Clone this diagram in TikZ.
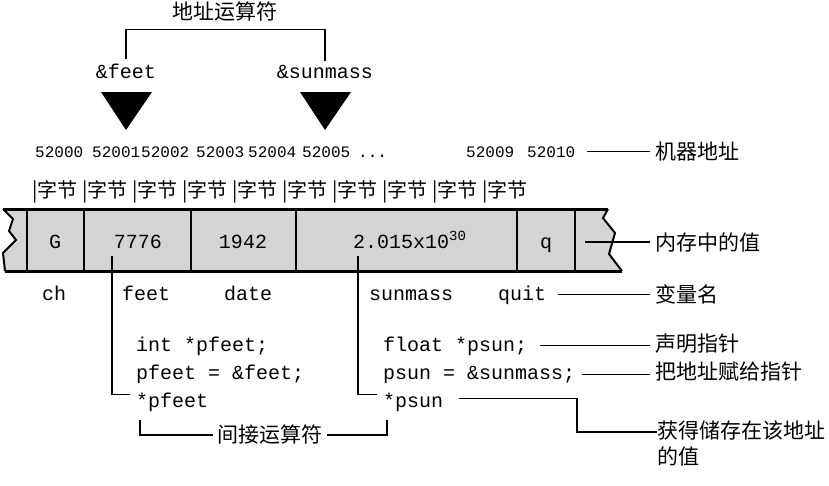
\documentclass[tikz,border=0pt]{standalone}
\usepackage{fontspec}
\setmonofont{Liberation Mono}
\newfontfamily\cjk{Noto Sans CJK SC}
\usepackage{tikz}
\usepackage{xcolor}
\usetikzlibrary{positioning}

\begin{document}
\begin{tikzpicture}[x=1pt,y=-1pt]
\tikzstyle{every node}+=[inner sep=0pt]
\tikzstyle{code}=[anchor=base west,font=\ttfamily\fontsize{20}{24}\selectfont]
\tikzstyle{val}=[anchor=base,font=\ttfamily\fontsize{20}{24}\selectfont]
\tikzstyle{addr}=[anchor=base west,font=\ttfamily\fontsize{16}{19}\selectfont]
\tikzstyle{hanzi}=[anchor=west,font=\cjk\fontsize{21}{26}\selectfont]
\tikzstyle{wire}=[black,line width=1.1pt]
\useasboundingbox (0,0) rectangle (829,485);
% address operator
\node [hanzi,anchor=center] (title) at (225,12) {地址运算符};
\node [code,anchor=base] (afeet) at (126,78) {\&feet};
\node [code,anchor=base] (asun) at (325,78) {\&sunmass};
\draw [wire] ([yshift=4pt]afeet.north) -- ++(0,-30) -| ([yshift=4pt]asun.north);
\fill [black] (101,92) -- (152,92) -- (126,130) -- cycle;
\fill [black] (300,92) -- (351,92) -- (325,130) -- cycle;
% machine addresses
\node [addr] (a0) at (35,157) {52000};
\node [addr] (a1) at (92,157) {52001};
\node [addr] (a2) at (141,157) {52002};
\node [addr] (a3) at (196,157) {52003};
\node [addr] (a4) at (248,157) {52004};
\node [addr] (a5) at (302,157) {52005};
\node [addr] (adots) at (358,157) {...};
\node [addr] (a9) at (466,157) {52009};
\node [addr] (a10) at (527,157) {52010};
\node [hanzi] (lbladdr) at (655,152) {机器地址};
\draw [wire] ([xshift=12pt]a10.east) -- ([xshift=-5pt]a10.east -| lbladdr.west);
% bytes
\foreach \i in {0,...,9}
  \node [hanzi,anchor=base west,font=\cjk\fontsize{20}{24}\selectfont] (byte\i) at (32+50*\i,197) {|字节};
% memory cells
\fill [black!17] (3,209) -- (608,209) -- (603,218) -- (615,233) -- (609,254) -- (622,271)
  -- (5,271) -- (3,253) -- (9,247) -- (16,240) -- (9,231) -- (13,219) -- cycle;
\draw [black,line width=2pt] (3,209) -- (13,219) -- (9,231) -- (16,240) -- (9,247) -- (3,253) -- (5,271);
\draw [black,line width=2pt] (608,209) -- (603,218) -- (615,233) -- (609,254) -- (622,271);
\draw [black,line width=3pt] (3,209) -- (608,209);
\draw [black,line width=3pt] (5,271) -- (622,271);
\foreach \x in {27,84,191,296,517,575}
  \draw [black,line width=2.5pt] (\x,209) -- (\x,271);
\node [val] (vch) at (55,248) {G};
\node [val] (vfeet) at (138,248) {7776};
\node [val] (vdate) at (243,248) {1942};
\node [code] (vsun) at (353,248) {2.015x10\textsuperscript{30}};
\node [val] (vquit) at (546,248) {q};
\coordinate (qpt) at (585,242);
\node [hanzi] (lblval) at (655,242) {内存中的值};
\draw [wire] (qpt) -- ([xshift=-5pt]qpt -| lblval.west);
% variable names
\node [code] (nch) at (42,300) {ch};
\node [code] (nfeet) at (122,300) {feet};
\node [code] (ndate) at (224,300) {date};
\node [code] (nsun) at (369,300) {sunmass};
\node [code] (nquit) at (498,300) {quit};
\node [hanzi] (lblvar) at (655,294) {变量名};
\draw [wire] ([xshift=12pt]nquit.east) -- ([xshift=-5pt]nquit.east -| lblvar.west);
% pointer code
\node [code] (pfdecl) at (136,351) {int *pfeet;};
\node [code] (pfset) at (136,379) {pfeet = \&feet;};
\node [code] (pfstar) at (136,407) {*pfeet};
\node [code] (psdecl) at (383,351) {float *psun;};
\node [code] (psset) at (383,379) {psun = \&sunmass;};
\node [code] (psstar) at (383,407) {*psun};
\node [hanzi] (lbldecl) at (655,344) {声明指针};
\node [hanzi] (lblset) at (655,372) {把地址赋给指针};
\node [hanzi,anchor=north west,align=left] (lblget) at (657,421) {获得储存在该地址\\的值};
\draw [wire] ([xshift=13pt]psdecl.east) -- ([xshift=-5pt]psdecl.east -| lbldecl.west);
\draw [wire] ([xshift=7pt]psset.east) -- ([xshift=-5pt]psset.east -| lblset.west);
\coordinate (getpt) at (577,432);
\draw [wire] ([xshift=16pt,yshift=3pt]psstar.east) -| (getpt) -- (getpt -| lblget.west);
% pointers into cells
\coordinate (ffoot) at (112,256);
\coordinate (sfoot) at (358,256);
\draw [wire] (ffoot) |- ([xshift=-6pt,yshift=7pt]pfstar.west);
\draw [wire] (sfoot) |- ([xshift=-6pt,yshift=7pt]psstar.west);
% indirection operator
\node [hanzi] (lblind) at (217,435) {间接运算符};
\coordinate (indl) at (140,420);
\coordinate (indr) at (387,420);
\draw [wire] (indl) |- ([xshift=-4pt]lblind.west);
\draw [wire] ([xshift=5pt]lblind.east) -| (indr);
\end{tikzpicture}
\end{document}
